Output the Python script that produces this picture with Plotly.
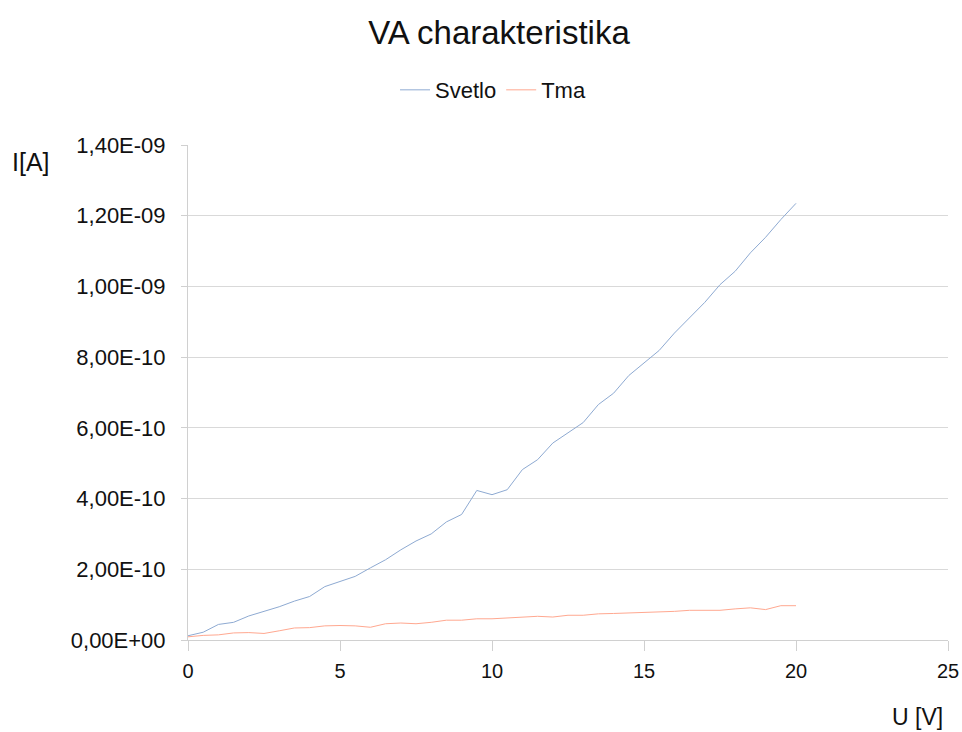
import plotly.graph_objects as go

U = [0, 0.5, 1, 1.5, 2, 2.5, 3, 3.5, 4, 4.5, 5, 5.5, 6, 6.5, 7, 7.5, 8, 8.5, 9, 9.5,
     10, 10.5, 11, 11.5, 12, 12.5, 13, 13.5, 14, 14.5, 15, 15.5, 16, 16.5, 17, 17.5,
     18, 18.5, 19, 19.5, 20]

svetlo = [1.2e-11, 2.2e-11, 4.4e-11, 5.0e-11, 6.8e-11, 8.0e-11, 9.4e-11, 1.10e-10, 1.23e-10,
          1.51e-10, 1.65e-10, 1.80e-10, 2.04e-10, 2.27e-10, 2.55e-10, 2.80e-10, 3.00e-10,
          3.34e-10, 3.55e-10, 4.23e-10, 4.11e-10, 4.25e-10, 4.82e-10, 5.10e-10, 5.57e-10,
          5.85e-10, 6.15e-10, 6.66e-10, 6.98e-10, 7.48e-10, 7.83e-10, 8.19e-10, 8.68e-10,
          9.12e-10, 9.55e-10, 1.005e-9, 1.043e-9, 1.095e-9, 1.139e-9, 1.189e-9, 1.235e-9]

tma = [9e-12, 1.3e-11, 1.45e-11, 2.0e-11, 2.1e-11, 1.85e-11, 2.6e-11, 3.4e-11, 3.5e-11,
       4.0e-11, 4.1e-11, 4.0e-11, 3.6e-11, 4.6e-11, 4.8e-11, 4.6e-11, 5.0e-11, 5.6e-11,
       5.6e-11, 6.0e-11, 6.0e-11, 6.2e-11, 6.4e-11, 6.7e-11, 6.5e-11, 7.0e-11, 7.0e-11,
       7.4e-11, 7.5e-11, 7.6e-11, 7.8e-11, 8.0e-11, 8.1e-11, 8.4e-11, 8.4e-11, 8.4e-11,
       8.8e-11, 9.1e-11, 8.6e-11, 9.7e-11, 9.7e-11]

y_tickvals = [0, 2e-10, 4e-10, 6e-10, 8e-10, 1.0e-9, 1.2e-9, 1.4e-9]
y_ticktext = ["0,00E+00", "2,00E-10", "4,00E-10", "6,00E-10", "8,00E-10",
              "1,00E-09", "1,20E-09", "1,40E-09"]
x_tickvals = [0, 5, 10, 15, 20, 25]

FONT = "Liberation Sans, Arial, sans-serif"

fig = go.Figure()
fig.add_trace(go.Scatter(x=U, y=svetlo, mode="lines", name="Svetlo",
                         line=dict(color="#8eaad2", width=1)))
fig.add_trace(go.Scatter(x=U, y=tma, mode="lines", name="Tma",
                         line=dict(color="#ffa890", width=1)))

fig.update_layout(
    width=962, height=732,
    paper_bgcolor="white", plot_bgcolor="white",
    margin=dict(l=188, r=14, t=145, b=92, autoexpand=False),
    font=dict(family=FONT, size=21, color="#111111"),
    showlegend=True,
    legend=dict(orientation="h", x=0.5125, xanchor="center", xref="container",
                y=0.877, yref="container", yanchor="middle",
                font=dict(size=22), itemwidth=30, tracegroupgap=0),
    title=dict(text="VA charakteristika", x=0.5187, xanchor="center", xref="container",
               y=0.955, yanchor="middle", yref="container",
               font=dict(size=33, family=FONT, color="#111111")),
    xaxis=dict(range=[0, 25], tickvals=x_tickvals, ticks="outside", ticklen=10,
               tickcolor="#d0d0d0", showgrid=False, showline=True, linecolor="#d0d0d0",
               zeroline=False, tickfont=dict(size=20), ticklabelstandoff=3,
               automargin=False),
    yaxis=dict(range=[0, 1.4e-9], tickvals=y_tickvals, ticktext=y_ticktext,
               ticks="outside", ticklen=6, tickcolor="#d0d0d0",
               showgrid=True, gridcolor="#d9d9d9", gridwidth=1,
               showline=True, linecolor="#d0d0d0", zeroline=False,
               tickfont=dict(size=22), ticklabelstandoff=11, automargin=False),
    annotations=[
        dict(text="I[A]", xref="paper", yref="paper", x=-0.234, y=0.966,
             xanchor="left", yanchor="middle", showarrow=False,
             font=dict(size=25, family=FONT, color="#111111")),
        dict(text="U [V]", xref="paper", yref="paper", x=0.996, y=-0.1556,
             xanchor="right", yanchor="middle", showarrow=False,
             font=dict(size=23, family=FONT, color="#111111")),
    ],
)

fig.write_html(
    "out.html",
    config={"displayModeBar": False},
    post_script="document.body.style.margin='0';document.documentElement.style.overflow='hidden';",
)
